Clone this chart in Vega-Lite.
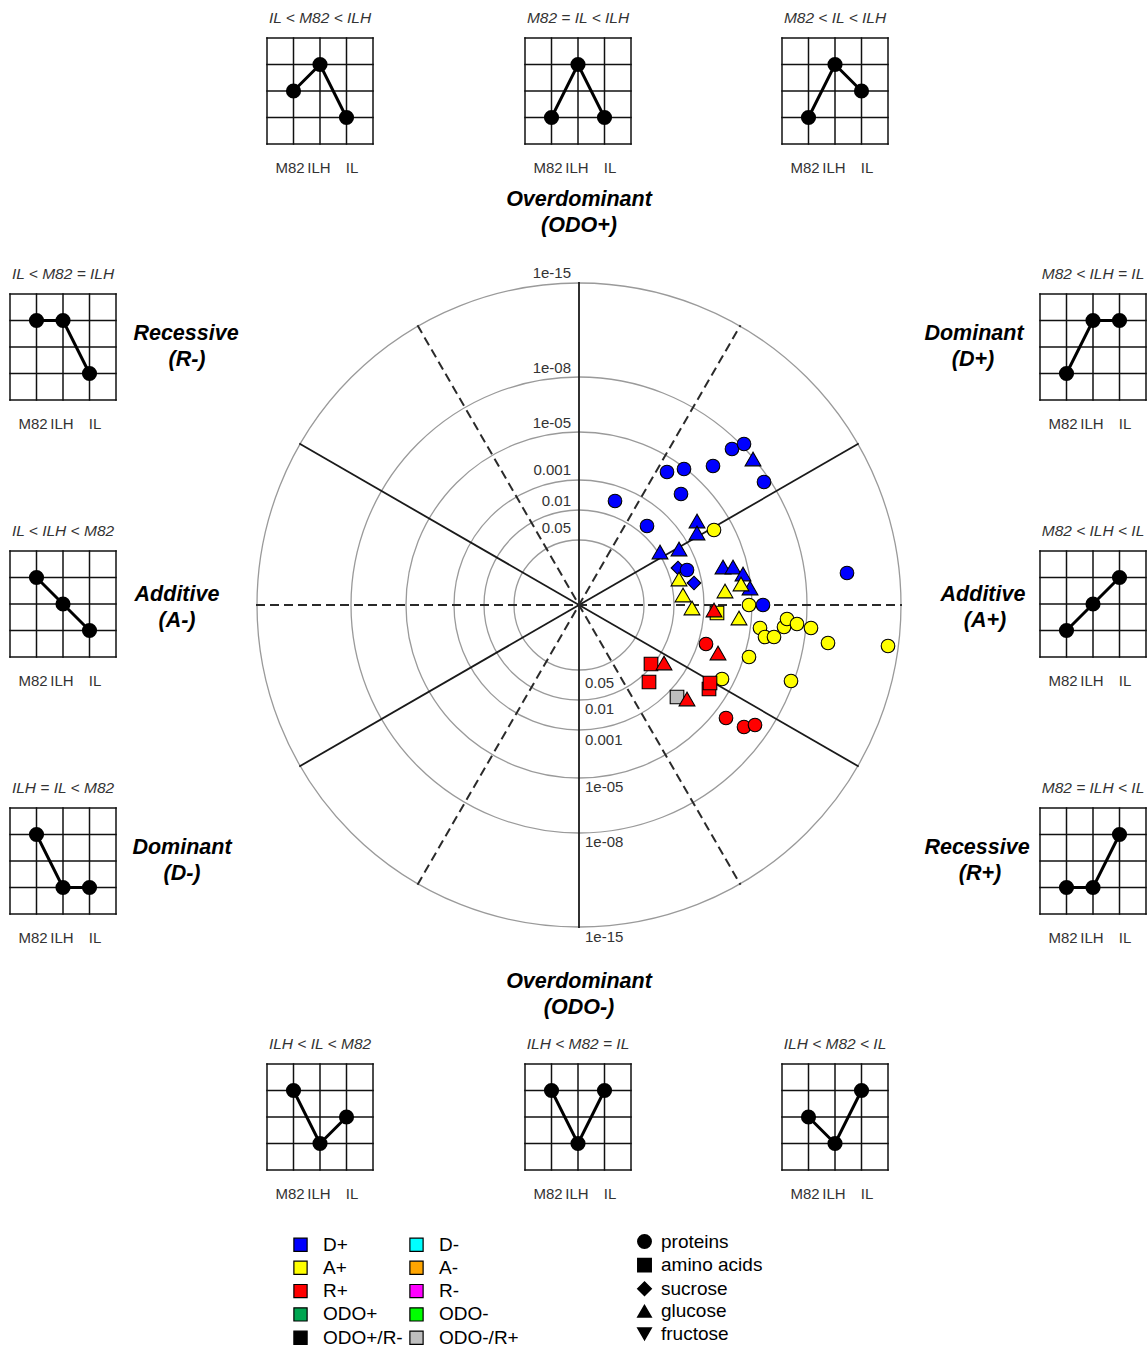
{
  "$schema": "https://vega.github.io/schema/vega-lite/v6.json",
  "width": 1147,
  "height": 1349,
  "autosize": {"type": "none"},
  "padding": 0,
  "background": "white",
  "config": {
    "view": {"stroke": null},
    "font": "Liberation Sans",
    "legend": {"symbolBaseFillColor": "black", "symbolBaseStrokeColor": "black"}
  },
  "datasets": {
    "rings": [
      {"p": "0.05", "r": 65}, {"p": "0.01", "r": 95}, {"p": "0.001", "r": 125},
      {"p": "1e-05", "r": 173}, {"p": "1e-08", "r": 228}, {"p": "1e-15", "r": 322}
    ],
    "ringLabels": [
      {"label": "0.05", "y": 77, "side": "top"}, {"label": "0.01", "y": 104, "side": "top"},
      {"label": "0.001", "y": 135, "side": "top"}, {"label": "1e-05", "y": 182, "side": "top"},
      {"label": "1e-08", "y": 237, "side": "top"}, {"label": "1e-15", "y": 332, "side": "top"},
      {"label": "0.05", "y": -78, "side": "bottom"}, {"label": "0.01", "y": -104, "side": "bottom"},
      {"label": "0.001", "y": -135, "side": "bottom"}, {"label": "1e-05", "y": -182, "side": "bottom"},
      {"label": "1e-08", "y": -237, "side": "bottom"}, {"label": "1e-15", "y": -332, "side": "bottom"}
    ],
    "spokes": [
      {"x": 0, "y": -323, "x2": 0, "y2": 323, "style": "solid"},
      {"x": -279.7, "y": -161.5, "x2": 279.7, "y2": 161.5, "style": "solid"},
      {"x": -279.7, "y": 161.5, "x2": 279.7, "y2": -161.5, "style": "solid"},
      {"x": -323, "y": 0, "x2": 323, "y2": 0, "style": "dashed"},
      {"x": -161.5, "y": -279.7, "x2": 161.5, "y2": 279.7, "style": "dashed"},
      {"x": -161.5, "y": 279.7, "x2": 161.5, "y2": -279.7, "style": "dashed"}
    ],
    "points": [
      {"cat": "D+", "type": "proteins", "x": 153, "y": 156},
      {"cat": "D+", "type": "proteins", "x": 165, "y": 161},
      {"cat": "D+", "type": "glucose", "x": 174, "y": 146},
      {"cat": "D+", "type": "proteins", "x": 185, "y": 123},
      {"cat": "D+", "type": "proteins", "x": 134, "y": 139},
      {"cat": "D+", "type": "proteins", "x": 105, "y": 136},
      {"cat": "D+", "type": "proteins", "x": 88, "y": 133},
      {"cat": "D+", "type": "proteins", "x": 102, "y": 111},
      {"cat": "D+", "type": "proteins", "x": 36, "y": 104},
      {"cat": "D+", "type": "proteins", "x": 68, "y": 79},
      {"cat": "D+", "type": "glucose", "x": 118, "y": 84},
      {"cat": "D+", "type": "glucose", "x": 118, "y": 72},
      {"cat": "D+", "type": "glucose", "x": 81, "y": 53},
      {"cat": "D+", "type": "glucose", "x": 100, "y": 56},
      {"cat": "D+", "type": "sucrose", "x": 99, "y": 37},
      {"cat": "D+", "type": "proteins", "x": 108, "y": 35},
      {"cat": "D+", "type": "sucrose", "x": 115, "y": 22},
      {"cat": "D+", "type": "glucose", "x": 144, "y": 38},
      {"cat": "D+", "type": "glucose", "x": 154, "y": 38},
      {"cat": "D+", "type": "glucose", "x": 164, "y": 31},
      {"cat": "D+", "type": "glucose", "x": 171, "y": 17},
      {"cat": "D+", "type": "proteins", "x": 184, "y": 0},
      {"cat": "D+", "type": "proteins", "x": 268, "y": 32},
      {"cat": "A+", "type": "proteins", "x": 135, "y": 75},
      {"cat": "A+", "type": "glucose", "x": 100, "y": 26},
      {"cat": "A+", "type": "glucose", "x": 162, "y": 21},
      {"cat": "A+", "type": "glucose", "x": 146, "y": 14},
      {"cat": "A+", "type": "glucose", "x": 104, "y": 10},
      {"cat": "A+", "type": "glucose", "x": 113, "y": -3},
      {"cat": "A+", "type": "amino acids", "x": 138, "y": -8},
      {"cat": "A+", "type": "glucose", "x": 160, "y": -13},
      {"cat": "A+", "type": "proteins", "x": 170, "y": 0},
      {"cat": "A+", "type": "proteins", "x": 181, "y": -23},
      {"cat": "A+", "type": "proteins", "x": 186, "y": -32},
      {"cat": "A+", "type": "proteins", "x": 195, "y": -32},
      {"cat": "A+", "type": "proteins", "x": 205, "y": -22},
      {"cat": "A+", "type": "proteins", "x": 208, "y": -14},
      {"cat": "A+", "type": "proteins", "x": 218, "y": -19},
      {"cat": "A+", "type": "proteins", "x": 232, "y": -23},
      {"cat": "A+", "type": "proteins", "x": 249, "y": -38},
      {"cat": "A+", "type": "proteins", "x": 309, "y": -41},
      {"cat": "A+", "type": "proteins", "x": 170, "y": -52},
      {"cat": "A+", "type": "proteins", "x": 143, "y": -74},
      {"cat": "A+", "type": "proteins", "x": 212, "y": -76},
      {"cat": "R+", "type": "glucose", "x": 135, "y": -5},
      {"cat": "R+", "type": "proteins", "x": 127, "y": -39},
      {"cat": "R+", "type": "glucose", "x": 139, "y": -48},
      {"cat": "R+", "type": "amino acids", "x": 72, "y": -59},
      {"cat": "R+", "type": "glucose", "x": 85, "y": -58},
      {"cat": "R+", "type": "amino acids", "x": 70, "y": -77},
      {"cat": "R+", "type": "amino acids", "x": 130, "y": -84},
      {"cat": "R+", "type": "amino acids", "x": 131, "y": -78},
      {"cat": "R+", "type": "glucose", "x": 108, "y": -94},
      {"cat": "R+", "type": "proteins", "x": 147, "y": -113},
      {"cat": "R+", "type": "proteins", "x": 165, "y": -122},
      {"cat": "R+", "type": "proteins", "x": 176, "y": -120},
      {"cat": "ODO-/R+", "type": "amino acids", "x": 98, "y": -92}
    ],
    "gridLines": [
      {"x": -312, "x2": -312, "y": 461, "y2": 567}, {"x": -285.5, "x2": -285.5, "y": 461, "y2": 567}, {"x": -259, "x2": -259, "y": 461, "y2": 567}, {"x": -232.5, "x2": -232.5, "y": 461, "y2": 567}, {"x": -206, "x2": -206, "y": 461, "y2": 567},
      {"x": -312, "x2": -206, "y": 461, "y2": 461}, {"x": -312, "x2": -206, "y": 487.5, "y2": 487.5}, {"x": -312, "x2": -206, "y": 514, "y2": 514}, {"x": -312, "x2": -206, "y": 540.5, "y2": 540.5}, {"x": -312, "x2": -206, "y": 567, "y2": 567},
      {"x": -54, "x2": -54, "y": 461, "y2": 567}, {"x": -27.5, "x2": -27.5, "y": 461, "y2": 567}, {"x": -1, "x2": -1, "y": 461, "y2": 567}, {"x": 25.5, "x2": 25.5, "y": 461, "y2": 567}, {"x": 52, "x2": 52, "y": 461, "y2": 567},
      {"x": -54, "x2": 52, "y": 461, "y2": 461}, {"x": -54, "x2": 52, "y": 487.5, "y2": 487.5}, {"x": -54, "x2": 52, "y": 514, "y2": 514}, {"x": -54, "x2": 52, "y": 540.5, "y2": 540.5}, {"x": -54, "x2": 52, "y": 567, "y2": 567},
      {"x": 203, "x2": 203, "y": 461, "y2": 567}, {"x": 229.5, "x2": 229.5, "y": 461, "y2": 567}, {"x": 256, "x2": 256, "y": 461, "y2": 567}, {"x": 282.5, "x2": 282.5, "y": 461, "y2": 567}, {"x": 309, "x2": 309, "y": 461, "y2": 567},
      {"x": 203, "x2": 309, "y": 461, "y2": 461}, {"x": 203, "x2": 309, "y": 487.5, "y2": 487.5}, {"x": 203, "x2": 309, "y": 514, "y2": 514}, {"x": 203, "x2": 309, "y": 540.5, "y2": 540.5}, {"x": 203, "x2": 309, "y": 567, "y2": 567},
      {"x": -569, "x2": -569, "y": 205, "y2": 311}, {"x": -542.5, "x2": -542.5, "y": 205, "y2": 311}, {"x": -516, "x2": -516, "y": 205, "y2": 311}, {"x": -489.5, "x2": -489.5, "y": 205, "y2": 311}, {"x": -463, "x2": -463, "y": 205, "y2": 311},
      {"x": -569, "x2": -463, "y": 205, "y2": 205}, {"x": -569, "x2": -463, "y": 231.5, "y2": 231.5}, {"x": -569, "x2": -463, "y": 258, "y2": 258}, {"x": -569, "x2": -463, "y": 284.5, "y2": 284.5}, {"x": -569, "x2": -463, "y": 311, "y2": 311},
      {"x": -569, "x2": -569, "y": -52, "y2": 54}, {"x": -542.5, "x2": -542.5, "y": -52, "y2": 54}, {"x": -516, "x2": -516, "y": -52, "y2": 54}, {"x": -489.5, "x2": -489.5, "y": -52, "y2": 54}, {"x": -463, "x2": -463, "y": -52, "y2": 54},
      {"x": -569, "x2": -463, "y": -52, "y2": -52}, {"x": -569, "x2": -463, "y": -25.5, "y2": -25.5}, {"x": -569, "x2": -463, "y": 1, "y2": 1}, {"x": -569, "x2": -463, "y": 27.5, "y2": 27.5}, {"x": -569, "x2": -463, "y": 54, "y2": 54},
      {"x": -569, "x2": -569, "y": -309, "y2": -203}, {"x": -542.5, "x2": -542.5, "y": -309, "y2": -203}, {"x": -516, "x2": -516, "y": -309, "y2": -203}, {"x": -489.5, "x2": -489.5, "y": -309, "y2": -203}, {"x": -463, "x2": -463, "y": -309, "y2": -203},
      {"x": -569, "x2": -463, "y": -309, "y2": -309}, {"x": -569, "x2": -463, "y": -282.5, "y2": -282.5}, {"x": -569, "x2": -463, "y": -256, "y2": -256}, {"x": -569, "x2": -463, "y": -229.5, "y2": -229.5}, {"x": -569, "x2": -463, "y": -203, "y2": -203},
      {"x": 461, "x2": 461, "y": 205, "y2": 311}, {"x": 487.5, "x2": 487.5, "y": 205, "y2": 311}, {"x": 514, "x2": 514, "y": 205, "y2": 311}, {"x": 540.5, "x2": 540.5, "y": 205, "y2": 311}, {"x": 567, "x2": 567, "y": 205, "y2": 311},
      {"x": 461, "x2": 567, "y": 205, "y2": 205}, {"x": 461, "x2": 567, "y": 231.5, "y2": 231.5}, {"x": 461, "x2": 567, "y": 258, "y2": 258}, {"x": 461, "x2": 567, "y": 284.5, "y2": 284.5}, {"x": 461, "x2": 567, "y": 311, "y2": 311},
      {"x": 461, "x2": 461, "y": -52, "y2": 54}, {"x": 487.5, "x2": 487.5, "y": -52, "y2": 54}, {"x": 514, "x2": 514, "y": -52, "y2": 54}, {"x": 540.5, "x2": 540.5, "y": -52, "y2": 54}, {"x": 567, "x2": 567, "y": -52, "y2": 54},
      {"x": 461, "x2": 567, "y": -52, "y2": -52}, {"x": 461, "x2": 567, "y": -25.5, "y2": -25.5}, {"x": 461, "x2": 567, "y": 1, "y2": 1}, {"x": 461, "x2": 567, "y": 27.5, "y2": 27.5}, {"x": 461, "x2": 567, "y": 54, "y2": 54},
      {"x": 461, "x2": 461, "y": -309, "y2": -203}, {"x": 487.5, "x2": 487.5, "y": -309, "y2": -203}, {"x": 514, "x2": 514, "y": -309, "y2": -203}, {"x": 540.5, "x2": 540.5, "y": -309, "y2": -203}, {"x": 567, "x2": 567, "y": -309, "y2": -203},
      {"x": 461, "x2": 567, "y": -309, "y2": -309}, {"x": 461, "x2": 567, "y": -282.5, "y2": -282.5}, {"x": 461, "x2": 567, "y": -256, "y2": -256}, {"x": 461, "x2": 567, "y": -229.5, "y2": -229.5}, {"x": 461, "x2": 567, "y": -203, "y2": -203},
      {"x": -312, "x2": -312, "y": -565, "y2": -459}, {"x": -285.5, "x2": -285.5, "y": -565, "y2": -459}, {"x": -259, "x2": -259, "y": -565, "y2": -459}, {"x": -232.5, "x2": -232.5, "y": -565, "y2": -459}, {"x": -206, "x2": -206, "y": -565, "y2": -459},
      {"x": -312, "x2": -206, "y": -565, "y2": -565}, {"x": -312, "x2": -206, "y": -538.5, "y2": -538.5}, {"x": -312, "x2": -206, "y": -512, "y2": -512}, {"x": -312, "x2": -206, "y": -485.5, "y2": -485.5}, {"x": -312, "x2": -206, "y": -459, "y2": -459},
      {"x": -54, "x2": -54, "y": -565, "y2": -459}, {"x": -27.5, "x2": -27.5, "y": -565, "y2": -459}, {"x": -1, "x2": -1, "y": -565, "y2": -459}, {"x": 25.5, "x2": 25.5, "y": -565, "y2": -459}, {"x": 52, "x2": 52, "y": -565, "y2": -459},
      {"x": -54, "x2": 52, "y": -565, "y2": -565}, {"x": -54, "x2": 52, "y": -538.5, "y2": -538.5}, {"x": -54, "x2": 52, "y": -512, "y2": -512}, {"x": -54, "x2": 52, "y": -485.5, "y2": -485.5}, {"x": -54, "x2": 52, "y": -459, "y2": -459},
      {"x": 203, "x2": 203, "y": -565, "y2": -459}, {"x": 229.5, "x2": 229.5, "y": -565, "y2": -459}, {"x": 256, "x2": 256, "y": -565, "y2": -459}, {"x": 282.5, "x2": 282.5, "y": -565, "y2": -459}, {"x": 309, "x2": 309, "y": -565, "y2": -459},
      {"x": 203, "x2": 309, "y": -565, "y2": -565}, {"x": 203, "x2": 309, "y": -538.5, "y2": -538.5}, {"x": 203, "x2": 309, "y": -512, "y2": -512}, {"x": 203, "x2": 309, "y": -485.5, "y2": -485.5}, {"x": 203, "x2": 309, "y": -459, "y2": -459}
    ],
    "insetPoints": [
      {"g": "TL", "geno": "M82", "x": -285.5, "y": 514, "lx": -289, "ly": 437},
      {"g": "TL", "geno": "ILH", "x": -259, "y": 540.5, "lx": -260, "ly": 437},
      {"g": "TL", "geno": "IL", "x": -232.5, "y": 487.5, "lx": -227, "ly": 437},
      {"g": "TM", "geno": "M82", "x": -27.5, "y": 487.5, "lx": -31, "ly": 437},
      {"g": "TM", "geno": "ILH", "x": -1, "y": 540.5, "lx": -2, "ly": 437},
      {"g": "TM", "geno": "IL", "x": 25.5, "y": 487.5, "lx": 31, "ly": 437},
      {"g": "TR", "geno": "M82", "x": 229.5, "y": 487.5, "lx": 226, "ly": 437},
      {"g": "TR", "geno": "ILH", "x": 256, "y": 540.5, "lx": 255, "ly": 437},
      {"g": "TR", "geno": "IL", "x": 282.5, "y": 514, "lx": 288, "ly": 437},
      {"g": "L1", "geno": "M82", "x": -542.5, "y": 284.5, "lx": -546, "ly": 181},
      {"g": "L1", "geno": "ILH", "x": -516, "y": 284.5, "lx": -517, "ly": 181},
      {"g": "L1", "geno": "IL", "x": -489.5, "y": 231.5, "lx": -484, "ly": 181},
      {"g": "L2", "geno": "M82", "x": -542.5, "y": 27.5, "lx": -546, "ly": -76},
      {"g": "L2", "geno": "ILH", "x": -516, "y": 1, "lx": -517, "ly": -76},
      {"g": "L2", "geno": "IL", "x": -489.5, "y": -25.5, "lx": -484, "ly": -76},
      {"g": "L3", "geno": "M82", "x": -542.5, "y": -229.5, "lx": -546, "ly": -333},
      {"g": "L3", "geno": "ILH", "x": -516, "y": -282.5, "lx": -517, "ly": -333},
      {"g": "L3", "geno": "IL", "x": -489.5, "y": -282.5, "lx": -484, "ly": -333},
      {"g": "R1", "geno": "M82", "x": 487.5, "y": 231.5, "lx": 484, "ly": 181},
      {"g": "R1", "geno": "ILH", "x": 514, "y": 284.5, "lx": 513, "ly": 181},
      {"g": "R1", "geno": "IL", "x": 540.5, "y": 284.5, "lx": 546, "ly": 181},
      {"g": "R2", "geno": "M82", "x": 487.5, "y": -25.5, "lx": 484, "ly": -76},
      {"g": "R2", "geno": "ILH", "x": 514, "y": 1, "lx": 513, "ly": -76},
      {"g": "R2", "geno": "IL", "x": 540.5, "y": 27.5, "lx": 546, "ly": -76},
      {"g": "R3", "geno": "M82", "x": 487.5, "y": -282.5, "lx": 484, "ly": -333},
      {"g": "R3", "geno": "ILH", "x": 514, "y": -282.5, "lx": 513, "ly": -333},
      {"g": "R3", "geno": "IL", "x": 540.5, "y": -229.5, "lx": 546, "ly": -333},
      {"g": "BL", "geno": "M82", "x": -285.5, "y": -485.5, "lx": -289, "ly": -589},
      {"g": "BL", "geno": "ILH", "x": -259, "y": -538.5, "lx": -260, "ly": -589},
      {"g": "BL", "geno": "IL", "x": -232.5, "y": -512, "lx": -227, "ly": -589},
      {"g": "BM", "geno": "M82", "x": -27.5, "y": -485.5, "lx": -31, "ly": -589},
      {"g": "BM", "geno": "ILH", "x": -1, "y": -538.5, "lx": -2, "ly": -589},
      {"g": "BM", "geno": "IL", "x": 25.5, "y": -485.5, "lx": 31, "ly": -589},
      {"g": "BR", "geno": "M82", "x": 229.5, "y": -512, "lx": 226, "ly": -589},
      {"g": "BR", "geno": "ILH", "x": 256, "y": -538.5, "lx": 255, "ly": -589},
      {"g": "BR", "geno": "IL", "x": 282.5, "y": -485.5, "lx": 288, "ly": -589}
    ],
    "insetTitles": [
      {"text": "IL < M82 < ILH", "x": -259, "y": 587},
      {"text": "M82 = IL < ILH", "x": -1, "y": 587},
      {"text": "M82 < IL < ILH", "x": 256, "y": 587},
      {"text": "IL < M82 = ILH", "x": -516, "y": 331},
      {"text": "IL < ILH < M82", "x": -516, "y": 74},
      {"text": "ILH = IL < M82", "x": -516, "y": -183},
      {"text": "M82 < ILH = IL", "x": 514, "y": 331},
      {"text": "M82 < ILH < IL", "x": 514, "y": 74},
      {"text": "M82 = ILH < IL", "x": 514, "y": -183},
      {"text": "ILH < IL < M82", "x": -259, "y": -439},
      {"text": "ILH < M82 = IL", "x": -1, "y": -439},
      {"text": "ILH < M82 < IL", "x": 256, "y": -439}
    ],
    "classLabels": [
      {"text": "Overdominant", "x": 0, "y": 405}, {"text": "(ODO+)", "x": 0, "y": 379},
      {"text": "Overdominant", "x": 0, "y": -377}, {"text": "(ODO-)", "x": 0, "y": -403},
      {"text": "Recessive", "x": -393, "y": 271}, {"text": "(R-)", "x": -392, "y": 245},
      {"text": "Dominant", "x": 395, "y": 271}, {"text": "(D+)", "x": 394, "y": 245},
      {"text": "Additive", "x": -402, "y": 10}, {"text": "(A-)", "x": -402, "y": -16},
      {"text": "Additive", "x": 404, "y": 10}, {"text": "(A+)", "x": 406, "y": -16},
      {"text": "Dominant", "x": -397, "y": -243}, {"text": "(D-)", "x": -397, "y": -269},
      {"text": "Recessive", "x": 398, "y": -243}, {"text": "(R+)", "x": 401, "y": -269}
    ]
  },
  "layer": [
    {
      "data": {"name": "rings"},
      "mark": {"type": "arc", "filled": false, "stroke": "#9a9a9a", "strokeWidth": 1.3, "theta": 0, "theta2": 6.2832},
      "encoding": {
        "x": {"datum": 0, "type": "quantitative", "scale": {"domain": [-579, 568], "nice": false, "zero": false}, "axis": null},
        "y": {"datum": 0, "type": "quantitative", "scale": {"domain": [-744, 605], "nice": false, "zero": false}, "axis": null},
        "radius": {"field": "r", "type": "quantitative", "scale": null, "stack": null}
      }
    },
    {
      "data": {"name": "spokes"},
      "transform": [{"filter": "datum.style === 'solid'"}],
      "mark": {"type": "rule", "color": "#1a1a1a", "strokeWidth": 1.8},
      "encoding": {
        "x": {"field": "x", "type": "quantitative", "scale": {"domain": [-579, 568], "nice": false, "zero": false}, "axis": null},
        "y": {"field": "y", "type": "quantitative", "scale": {"domain": [-744, 605], "nice": false, "zero": false}, "axis": null},
        "x2": {"field": "x2"},
        "y2": {"field": "y2"}
      }
    },
    {
      "data": {"name": "spokes"},
      "transform": [{"filter": "datum.style === 'dashed'"}],
      "mark": {"type": "rule", "color": "#2a2a2a", "strokeWidth": 2, "strokeDash": [9, 5]},
      "encoding": {
        "x": {"field": "x", "type": "quantitative", "scale": {"domain": [-579, 568], "nice": false, "zero": false}, "axis": null},
        "y": {"field": "y", "type": "quantitative", "scale": {"domain": [-744, 605], "nice": false, "zero": false}, "axis": null},
        "x2": {"field": "x2"},
        "y2": {"field": "y2"}
      }
    },
    {
      "data": {"name": "ringLabels"},
      "transform": [{"filter": "datum.side === 'top'"}],
      "mark": {"type": "text", "align": "right", "baseline": "middle", "dx": -8, "fontSize": 15, "color": "#333333"},
      "encoding": {
        "x": {"datum": 0, "type": "quantitative", "scale": {"domain": [-579, 568], "nice": false, "zero": false}, "axis": null},
        "y": {"field": "y", "type": "quantitative", "scale": {"domain": [-744, 605], "nice": false, "zero": false}, "axis": null},
        "text": {"field": "label"}
      }
    },
    {
      "data": {"name": "ringLabels"},
      "transform": [{"filter": "datum.side === 'bottom'"}],
      "mark": {"type": "text", "align": "left", "baseline": "middle", "dx": 6, "fontSize": 15, "color": "#333333"},
      "encoding": {
        "x": {"datum": 0, "type": "quantitative", "scale": {"domain": [-579, 568], "nice": false, "zero": false}, "axis": null},
        "y": {"field": "y", "type": "quantitative", "scale": {"domain": [-744, 605], "nice": false, "zero": false}, "axis": null},
        "text": {"field": "label"}
      }
    },
    {
      "data": {"name": "points"},
      "transform": [{"filter": "datum.type !== 'glucose' && datum.type !== 'fructose'"}],
      "mark": {"type": "point", "filled": true, "opacity": 1, "size": 185, "stroke": "black", "strokeWidth": 1.1},
      "encoding": {
        "x": {"field": "x", "type": "quantitative", "scale": {"domain": [-579, 568], "nice": false, "zero": false}, "axis": null},
        "y": {"field": "y", "type": "quantitative", "scale": {"domain": [-744, 605], "nice": false, "zero": false}, "axis": null},
        "color": {
          "field": "cat", "type": "nominal",
          "scale": {
            "domain": ["D+", "A+", "R+", "ODO+", "ODO+/R-", "D-", "A-", "R-", "ODO-", "ODO-/R+"],
            "range": ["#0000FF", "#FFFF00", "#FF0000", "#00A651", "#000000", "#00FFFF", "#FFA500", "#FF00FF", "#00FF00", "#BEBEBE"]
          },
          "legend": {
            "title": null, "orient": "none", "legendX": 291, "legendY": 1235, "columns": 2, "columnPadding": 4,
            "rowPadding": 3.3, "padding": 0, "symbolType": "square", "symbolSize": 175, "symbolStrokeColor": "black",
            "symbolStrokeWidth": 1.2, "labelFontSize": 19, "labelFont": "Liberation Sans", "labelColor": "black",
            "labelOffset": 13, "symbolOpacity": 1,
            "encode": {"symbols": {"update": {"stroke": {"value": "black"}, "strokeWidth": {"value": 1.2}, "opacity": {"value": 1}}}}
          }
        },
        "shape": {
          "field": "type", "type": "nominal",
          "scale": {
            "domain": ["proteins", "amino acids", "sucrose", "glucose", "fructose"],
            "range": ["circle", "square", "diamond", "triangle-up", "triangle-down"]
          },
          "legend": {
            "title": null, "orient": "none", "legendX": 635, "legendY": 1232, "rowPadding": 2.6, "padding": 0,
            "symbolSize": 180, "labelFontSize": 19, "labelFont": "Liberation Sans", "labelColor": "black", "labelOffset": 7,
            "symbolFillColor": "black", "symbolStrokeColor": "black",
            "encode": {"symbols": {"update": {"fill": {"value": "black"}, "stroke": {"value": "black"}, "opacity": {"value": 1}}}}
          }
        }
      }
    },
    {
      "data": {"name": "points"},
      "transform": [{"filter": "datum.type === 'glucose' || datum.type === 'fructose'"}],
      "mark": {"type": "point", "filled": true, "opacity": 1, "size": 250, "stroke": "black", "strokeWidth": 1.1},
      "encoding": {
        "x": {"field": "x", "type": "quantitative", "scale": {"domain": [-579, 568], "nice": false, "zero": false}, "axis": null},
        "y": {"field": "y", "type": "quantitative", "scale": {"domain": [-744, 605], "nice": false, "zero": false}, "axis": null},
        "color": {
          "field": "cat", "type": "nominal",
          "scale": {
            "domain": ["D+", "A+", "R+", "ODO+", "ODO+/R-", "D-", "A-", "R-", "ODO-", "ODO-/R+"],
            "range": ["#0000FF", "#FFFF00", "#FF0000", "#00A651", "#000000", "#00FFFF", "#FFA500", "#FF00FF", "#00FF00", "#BEBEBE"]
          },
          "legend": {
            "title": null, "orient": "none", "legendX": 291, "legendY": 1235, "columns": 2, "columnPadding": 4,
            "rowPadding": 3.3, "padding": 0, "symbolType": "square", "symbolSize": 175, "symbolStrokeColor": "black",
            "symbolStrokeWidth": 1.2, "labelFontSize": 19, "labelFont": "Liberation Sans", "labelColor": "black",
            "labelOffset": 13, "symbolOpacity": 1,
            "encode": {"symbols": {"update": {"stroke": {"value": "black"}, "strokeWidth": {"value": 1.2}, "opacity": {"value": 1}}}}
          }
        },
        "shape": {
          "field": "type", "type": "nominal",
          "scale": {
            "domain": ["proteins", "amino acids", "sucrose", "glucose", "fructose"],
            "range": ["circle", "square", "diamond", "triangle-up", "triangle-down"]
          },
          "legend": {
            "title": null, "orient": "none", "legendX": 635, "legendY": 1232, "rowPadding": 2.6, "padding": 0,
            "symbolSize": 180, "labelFontSize": 19, "labelFont": "Liberation Sans", "labelColor": "black", "labelOffset": 7,
            "symbolFillColor": "black", "symbolStrokeColor": "black",
            "encode": {"symbols": {"update": {"fill": {"value": "black"}, "stroke": {"value": "black"}, "opacity": {"value": 1}}}}
          }
        }
      }
    },
    {
      "data": {"name": "gridLines"},
      "mark": {"type": "rule", "color": "#111111", "strokeWidth": 1.5, "strokeCap": "square"},
      "encoding": {
        "x": {"field": "x", "type": "quantitative", "scale": {"domain": [-579, 568], "nice": false, "zero": false}, "axis": null},
        "y": {"field": "y", "type": "quantitative", "scale": {"domain": [-744, 605], "nice": false, "zero": false}, "axis": null},
        "x2": {"field": "x2"},
        "y2": {"field": "y2"}
      }
    },
    {
      "data": {"name": "insetPoints"},
      "mark": {"type": "line", "color": "black", "strokeWidth": 3},
      "encoding": {
        "x": {"field": "x", "type": "quantitative", "scale": {"domain": [-579, 568], "nice": false, "zero": false}, "axis": null},
        "y": {"field": "y", "type": "quantitative", "scale": {"domain": [-744, 605], "nice": false, "zero": false}, "axis": null},
        "detail": {"field": "g"}
      }
    },
    {
      "data": {"name": "insetPoints"},
      "mark": {"type": "point", "filled": true, "color": "black", "opacity": 1, "size": 230},
      "encoding": {
        "x": {"field": "x", "type": "quantitative", "scale": {"domain": [-579, 568], "nice": false, "zero": false}, "axis": null},
        "y": {"field": "y", "type": "quantitative", "scale": {"domain": [-744, 605], "nice": false, "zero": false}, "axis": null}
      }
    },
    {
      "data": {"name": "insetPoints"},
      "mark": {"type": "text", "align": "center", "baseline": "middle", "fontSize": 15, "color": "#333333"},
      "encoding": {
        "x": {"field": "lx", "type": "quantitative", "scale": {"domain": [-579, 568], "nice": false, "zero": false}, "axis": null},
        "y": {"field": "ly", "type": "quantitative", "scale": {"domain": [-744, 605], "nice": false, "zero": false}, "axis": null},
        "text": {"field": "geno"}
      }
    },
    {
      "data": {"name": "insetTitles"},
      "mark": {"type": "text", "align": "center", "baseline": "middle", "fontSize": 15.5, "fontStyle": "italic", "color": "#333333"},
      "encoding": {
        "x": {"field": "x", "type": "quantitative", "scale": {"domain": [-579, 568], "nice": false, "zero": false}, "axis": null},
        "y": {"field": "y", "type": "quantitative", "scale": {"domain": [-744, 605], "nice": false, "zero": false}, "axis": null},
        "text": {"field": "text"}
      }
    },
    {
      "data": {"name": "classLabels"},
      "mark": {"type": "text", "align": "center", "baseline": "middle", "fontSize": 21.5, "fontStyle": "italic", "fontWeight": "bold", "color": "black"},
      "encoding": {
        "x": {"field": "x", "type": "quantitative", "scale": {"domain": [-579, 568], "nice": false, "zero": false}, "axis": null},
        "y": {"field": "y", "type": "quantitative", "scale": {"domain": [-744, 605], "nice": false, "zero": false}, "axis": null},
        "text": {"field": "text"}
      }
    }
  ]
}
